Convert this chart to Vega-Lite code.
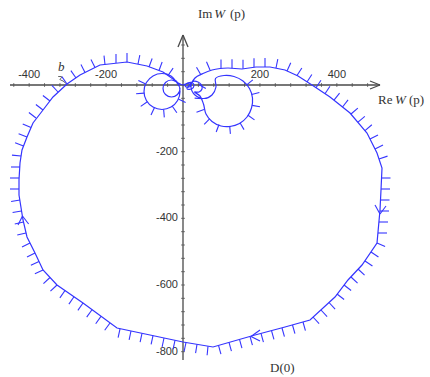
{
 "$schema": "https://vega.github.io/schema/vega-lite/v6.json",
 "width": 430, "height": 377, "autosize": "none", "padding": 0,
 "background": "white",
 "config": {"view": {"stroke": null}},
 "datasets": {
  "curve": [
   {"s":"main","i":0,"x":117,"y":51},{"s":"main","i":1,"x":153.4,"y":48},{"s":"main","i":2,"x":189.8,"y":54},{"s":"main","i":3,"x":226.2,"y":54},{"s":"main","i":4,"x":265.2,"y":45},{"s":"main","i":5,"x":299,"y":27},{"s":"main","i":6,"x":335.4,"y":0},{"s":"main","i":7,"x":382.2,"y":-36},{"s":"main","i":8,"x":434.2,"y":-84},{"s":"main","i":9,"x":478.4,"y":-144},{"s":"main","i":10,"x":504.4,"y":-204},{"s":"main","i":11,"x":517.4,"y":-249},{"s":"main","i":12,"x":514.8,"y":-315},{"s":"main","i":13,"x":512.2,"y":-375},{"s":"main","i":14,"x":504.4,"y":-474},{"s":"main","i":15,"x":465.4,"y":-540},{"s":"main","i":16,"x":429,"y":-585},{"s":"main","i":17,"x":395.2,"y":-636},{"s":"main","i":18,"x":330.2,"y":-705},{"s":"main","i":19,"x":265.2,"y":-726},{"s":"main","i":20,"x":187.2,"y":-750},{"s":"main","i":21,"x":78,"y":-786},{"s":"main","i":22,"x":0,"y":-771},{"s":"main","i":23,"x":-85.8,"y":-750},{"s":"main","i":24,"x":-171.6,"y":-729},{"s":"main","i":25,"x":-260,"y":-654},{"s":"main","i":26,"x":-327.6,"y":-600},{"s":"main","i":27,"x":-364,"y":-555},{"s":"main","i":28,"x":-384.8,"y":-504},{"s":"main","i":29,"x":-405.6,"y":-456},{"s":"main","i":30,"x":-416,"y":-405},{"s":"main","i":31,"x":-426.4,"y":-330},{"s":"main","i":32,"x":-426.4,"y":-285},{"s":"main","i":33,"x":-423.8,"y":-234},{"s":"main","i":34,"x":-418.6,"y":-195},{"s":"main","i":35,"x":-405.6,"y":-156},{"s":"main","i":36,"x":-390,"y":-114},{"s":"main","i":37,"x":-364,"y":-75},{"s":"main","i":38,"x":-338,"y":-36},{"s":"main","i":39,"x":-301.6,"y":3},{"s":"main","i":40,"x":-267.8,"y":30},{"s":"main","i":41,"x":-215.8,"y":60},{"s":"main","i":42,"x":-145.6,"y":69},{"s":"main","i":43,"x":-93.6,"y":57},{"s":"main","i":44,"x":-52,"y":39},{"s":"main","i":45,"x":-26,"y":18},
   {"s":"L","i":0,"x":-26,"y":18},{"s":"L","i":1,"x":-14,"y":7.5},{"s":"L","i":2,"x":-7.8,"y":-19.5},{"s":"L","i":3,"x":-14,"y":-46.5},{"s":"L","i":4,"x":-31.2,"y":-66.3},{"s":"L","i":5,"x":-54.6,"y":-73.5},{"s":"L","i":6,"x":-78,"y":-66.3},{"s":"L","i":7,"x":-95.2,"y":-46.5},{"s":"L","i":8,"x":-101.4,"y":-19.5},{"s":"L","i":9,"x":-95.2,"y":7.5},{"s":"L","i":10,"x":-78,"y":27.3},{"s":"L","i":11,"x":-54.6,"y":34.5},{"s":"L","i":12,"x":-31.2,"y":27.3},{"s":"L","i":13,"x":-15.6,"y":6},{"s":"L","i":14,"x":-7.8,"y":-10.5},{"s":"L","i":15,"x":-14.3,"y":-28.5},{"s":"L","i":16,"x":-29.9,"y":-36},{"s":"L","i":17,"x":-45.5,"y":-28.5},{"s":"L","i":18,"x":-52,"y":-10.5},{"s":"L","i":19,"x":-45.5,"y":7.5},{"s":"L","i":20,"x":-29.9,"y":15},{"s":"L","i":21,"x":-14.3,"y":7.5},{"s":"L","i":22,"x":-5.2,"y":1.5},{"s":"L","i":23,"x":0,"y":0},
   {"s":"R","i":0,"x":0,"y":0},{"s":"R","i":1,"x":7.8,"y":3.6},{"s":"R","i":2,"x":15.6,"y":4.5},{"s":"R","i":3,"x":19.5,"y":-1.5},{"s":"R","i":4,"x":14.3,"y":-6.6},{"s":"R","i":5,"x":6.5,"y":-4.5},{"s":"R","i":6,"x":5.2,"y":0},{"s":"R","i":7,"x":13,"y":6.6},{"s":"R","i":8,"x":23.4,"y":7.5},{"s":"R","i":9,"x":28.6,"y":-1.5},{"s":"R","i":10,"x":22.1,"y":-12},{"s":"R","i":11,"x":10.4,"y":-11.4},{"s":"R","i":12,"x":26,"y":10.5},{"s":"R","i":13,"x":39,"y":9},{"s":"R","i":14,"x":48.1,"y":0},{"s":"R","i":15,"x":49.4,"y":-12},{"s":"R","i":16,"x":41.6,"y":-21},{"s":"R","i":17,"x":29.9,"y":-21},
   {"s":"R","i":18,"x":44.2,"y":-33},{"s":"R","i":19,"x":53.3,"y":-57},{"s":"R","i":20,"x":59.8,"y":-87},{"s":"R","i":21,"x":75.4,"y":-109.5},{"s":"R","i":22,"x":98.8,"y":-123},{"s":"R","i":23,"x":122.2,"y":-124.5},{"s":"R","i":24,"x":146.9,"y":-115.5},{"s":"R","i":25,"x":166.4,"y":-96},{"s":"R","i":26,"x":178.1,"y":-69},{"s":"R","i":27,"x":180.7,"y":-39},{"s":"R","i":28,"x":172.9,"y":-10.5},{"s":"R","i":29,"x":156,"y":12},{"s":"R","i":30,"x":132.6,"y":25.5},{"s":"R","i":31,"x":106.6,"y":28.5},{"s":"R","i":32,"x":84.5,"y":19.5},{"s":"R","i":33,"x":85.8,"y":-6},{"s":"R","i":34,"x":75.4,"y":-30},{"s":"R","i":35,"x":54.6,"y":-40.5},{"s":"R","i":36,"x":31.2,"y":-30},{"s":"R","i":37,"x":20.8,"y":-6},{"s":"R","i":38,"x":31.2,"y":21},{"s":"R","i":39,"x":52,"y":34.5},{"s":"R","i":40,"x":75.4,"y":45},{"s":"R","i":41,"x":96.2,"y":49.5},{"s":"R","i":42,"x":117,"y":51},
   {"s":"lead","i":0,"x":-325,"y":25.5},{"s":"lead","i":1,"x":-314.6,"y":24},{"s":"lead","i":2,"x":-319.8,"y":16.5},{"s":"lead","i":3,"x":-312,"y":12},{"s":"lead","i":4,"x":-304.2,"y":4.5}
  ],
  "segs": [
   {"g":"axis","x":-449.8,"y":0,"x2":512.2,"y2":0},{"g":"axis","x":512.2,"y":0,"x2":486.2,"y2":12},{"g":"axis","x":512.2,"y":0,"x2":486.2,"y2":-12},
   {"g":"axis","x":0,"y":-825,"x2":0,"y2":150},{"g":"axis","x":0,"y":150,"x2":-13,"y2":114},{"g":"axis","x":0,"y":150,"x2":13,"y2":114},
   {"g":"arrow","x":-417.3,"y":-393,"x2":-429,"y2":-420},{"g":"arrow","x":-417.3,"y":-393,"x2":-401.4,"y2":-417},
   {"g":"arrow","x":512.2,"y":-387,"x2":499.2,"y2":-360},{"g":"arrow","x":512.2,"y":-387,"x2":527.8,"y2":-363},
   {"g":"arrow","x":176.8,"y":-754.5,"x2":200.2,"y2":-735},{"g":"arrow","x":176.8,"y":-754.5,"x2":200.2,"y2":-768},
   {"g":"h","x":46.8,"y":30,"x2":35.1,"y2":53.5},{"g":"h","x":70.2,"y":45,"x2":61.1,"y2":69.8},{"g":"h","x":98.8,"y":49.5,"x2":98.8,"y2":76.5},{"g":"h","x":127.4,"y":50.1,"x2":127.4,"y2":77.1},{"g":"h","x":156,"y":48.6,"x2":156,"y2":75.6},{"g":"h","x":184.6,"y":53.1,"x2":184.6,"y2":80.1},{"g":"h","x":213.2,"y":54,"x2":213.2,"y2":81},{"g":"h","x":241.8,"y":51,"x2":246.5,"y2":77.5},{"g":"h","x":270.4,"y":42,"x2":280.2,"y2":66.6},{"g":"h","x":296.4,"y":28.5,"x2":309,"y2":51.2},
   {"g":"h","x":322.4,"y":9,"x2":335,"y2":31.7},{"g":"h","x":345.8,"y":-8.1,"x2":358.7,"y2":14.3},{"g":"h","x":369.2,"y":-26.1,"x2":382.1,"y2":-3.7},{"g":"h","x":392.6,"y":-45.6,"x2":407.1,"y2":-24.5},{"g":"h","x":414.7,"y":-66,"x2":429.2,"y2":-44.9},{"g":"h","x":436.8,"y":-87,"x2":454.6,"y2":-69.5},{"g":"h","x":455,"y":-111.6,"x2":472.8,"y2":-94.1},{"g":"h","x":473.2,"y":-136.8,"x2":491,"y2":-119.3},{"g":"h","x":486.2,"y":-162,"x2":507,"y2":-149.9},{"g":"h","x":499.2,"y":-192,"x2":520,"y2":-179.9},{"g":"h","x":509.6,"y":-222,"x2":531.8,"y2":-213.4},
   {"g":"h","x":516.1,"y":-279,"x2":539.5,"y2":-279},{"g":"h","x":514.8,"y":-312,"x2":538.2,"y2":-312},{"g":"h","x":513.5,"y":-345,"x2":536.9,"y2":-345},{"g":"h","x":512.2,"y":-378,"x2":535.6,"y2":-378},{"g":"h","x":509.6,"y":-411,"x2":533,"y2":-411},{"g":"h","x":507,"y":-444,"x2":530.4,"y2":-444},{"g":"h","x":504.4,"y":-474,"x2":525.5,"y2":-484.8},
   {"g":"h","x":488.8,"y":-501,"x2":508.2,"y2":-516.1},{"g":"h","x":473.2,"y":-528,"x2":492.6,"y2":-543.1},{"g":"h","x":455,"y":-552,"x2":472.1,"y2":-570.4},{"g":"h","x":436.8,"y":-576,"x2":453.9,"y2":-594.4},{"g":"h","x":418.6,"y":-600,"x2":437.1,"y2":-616.5},{"g":"h","x":400.4,"y":-627,"x2":418.9,"y2":-643.5},{"g":"h","x":379.6,"y":-652.5,"x2":395.5,"y2":-672.5},{"g":"h","x":358.8,"y":-675,"x2":374.7,"y2":-695},{"g":"h","x":338,"y":-696,"x2":353.9,"y2":-716},
   {"g":"h","x":312,"y":-711,"x2":318.3,"y2":-736.9},{"g":"h","x":284.7,"y":-720,"x2":291,"y2":-745.9},{"g":"h","x":257.4,"y":-729,"x2":263.7,"y2":-754.9},{"g":"h","x":230.1,"y":-737.1,"x2":236.4,"y2":-763},{"g":"h","x":202.8,"y":-745.2,"x2":209.1,"y2":-771.1},{"g":"h","x":174.2,"y":-754.2,"x2":180.5,"y2":-780.1},{"g":"h","x":146.9,"y":-763.2,"x2":153.2,"y2":-789.1},{"g":"h","x":119.6,"y":-772.2,"x2":125.9,"y2":-798.1},{"g":"h","x":92.3,"y":-781.2,"x2":98.6,"y2":-807.1},
   {"g":"h","x":65,"y":-783.6,"x2":62.7,"y2":-810.6},{"g":"h","x":36.4,"y":-777.9,"x2":32.7,"y2":-804.6},{"g":"h","x":7.8,"y":-772.5,"x2":2.9,"y2":-799},{"g":"h","x":-20.8,"y":-765.9,"x2":-25.7,"y2":-792.4},{"g":"h","x":-49.4,"y":-759,"x2":-54.3,"y2":-785.5},{"g":"h","x":-78,"y":-751.8,"x2":-82.9,"y2":-778.3},{"g":"h","x":-106.6,"y":-744.9,"x2":-111.5,"y2":-771.4},{"g":"h","x":-135.2,"y":-738,"x2":-140.1,"y2":-764.5},{"g":"h","x":-163.8,"y":-731.4,"x2":-168.7,"y2":-757.9},
   {"g":"h","x":-189.8,"y":-714,"x2":-203.6,"y2":-735.9},{"g":"h","x":-213.2,"y":-694.2,"x2":-227,"y2":-716.1},{"g":"h","x":-236.6,"y":-674.4,"x2":-250.4,"y2":-696.3},{"g":"h","x":-260,"y":-654,"x2":-273.3,"y2":-676.1},{"g":"h","x":-283.4,"y":-635.4,"x2":-296.7,"y2":-657.5},{"g":"h","x":-306.8,"y":-616.5,"x2":-320.1,"y2":-638.6},{"g":"h","x":-327.6,"y":-600,"x2":-344.7,"y2":-618.4},{"g":"h","x":-345.8,"y":-577.5,"x2":-362.9,"y2":-595.9},
   {"g":"h","x":-364,"y":-555,"x2":-385.1,"y2":-566.3},{"g":"h","x":-374.4,"y":-529.5,"x2":-395.5,"y2":-540.8},{"g":"h","x":-384.8,"y":-504,"x2":-405.6,"y2":-516.2},{"g":"h","x":-397.8,"y":-474,"x2":-418.6,"y2":-486.2},{"g":"h","x":-408.2,"y":-444,"x2":-430.9,"y2":-450.2},{"g":"h","x":-414.7,"y":-411,"x2":-437.4,"y2":-417.2},{"g":"h","x":-419.9,"y":-378,"x2":-443.1,"y2":-382.3},{"g":"h","x":-423.8,"y":-345,"x2":-447,"y2":-349.3},{"g":"h","x":-426.4,"y":-312,"x2":-449.8,"y2":-312},{"g":"h","x":-426.4,"y":-279,"x2":-449.8,"y2":-279},{"g":"h","x":-423.8,"y":-246,"x2":-447.2,"y2":-246},{"g":"h","x":-421.2,"y":-213,"x2":-444.6,"y2":-210.3},
   {"g":"h","x":-414.7,"y":-183,"x2":-436.5,"y2":-173.3},{"g":"h","x":-405.6,"y":-156,"x2":-427.4,"y2":-146.3},{"g":"h","x":-395.2,"y":-127.5,"x2":-416.7,"y2":-117},{"g":"h","x":-382.2,"y":-99,"x2":-400.7,"y2":-82.5},{"g":"h","x":-364,"y":-75,"x2":-382.5,"y2":-58.5},{"g":"h","x":-345.8,"y":-48,"x2":-364.3,"y2":-31.5},{"g":"h","x":-325,"y":-21,"x2":-340.9,"y2":-1.3},{"g":"h","x":-301.6,"y":3,"x2":-314.9,"y2":25.1},{"g":"h","x":-278.2,"y":21,"x2":-291.5,"y2":43.1},{"g":"h","x":-254.8,"y":37.5,"x2":-265.3,"y2":61.5},{"g":"h","x":-228.8,"y":52.5,"x2":-239.3,"y2":76.5},{"g":"h","x":-202.8,"y":61.5,"x2":-205.4,"y2":88.2},{"g":"h","x":-174.2,"y":66,"x2":-174.2,"y2":93},{"g":"h","x":-145.6,"y":69,"x2":-145.6,"y2":96},{"g":"h","x":-117,"y":63,"x2":-112.3,"y2":89.5},{"g":"h","x":-88.4,"y":54,"x2":-80.2,"y2":79.4},{"g":"h","x":-62.4,"y":43.5,"x2":-54.2,"y2":68.9},{"g":"h","x":-39,"y":28.5,"x2":-25.7,"y2":50.6},
   {"g":"h","x":-12.2,"y":-42.3,"x2":6.8,"y2":-52.5},{"g":"h","x":-27.8,"y":-63.6,"x2":-15.9,"y2":-83.4},{"g":"h","x":-50.4,"y":-73.2,"x2":-48.6,"y2":-97.2},{"g":"h","x":-74.4,"y":-68.4,"x2":-83.2,"y2":-90.3},{"g":"h","x":-92.8,"y":-50.4,"x2":-110,"y2":-64.2},{"g":"h","x":-101.1,"y":-24.3,"x2":-121.9,"y2":-26.4},{"g":"h","x":-97,"y":3.3,"x2":-116,"y2":13.5},
   {"g":"h","x":165.6,"y":0.3,"x2":181.5,"y2":15.6},{"g":"h","x":178.4,"y":-28.5,"x2":198.6,"y2":-22.5},{"g":"h","x":179.7,"y":-61.2,"x2":200.2,"y2":-65.1},{"g":"h","x":169,"y":-90.9,"x2":185.9,"y2":-104.7},{"g":"h","x":148.2,"y":-113.1,"x2":158.6,"y2":-133.8},{"g":"h","x":121.4,"y":-122.7,"x2":123.2,"y2":-146.7},{"g":"h","x":93.6,"y":-118.5,"x2":86.3,"y2":-141},{"g":"h","x":69.7,"y":-101.1,"x2":55.1,"y2":-117.9},{"g":"h","x":54.6,"y":-73.8,"x2":35.1,"y2":-81.9},{"g":"h","x":51,"y":-41.4,"x2":30.2,"y2":-39.3},{"g":"h","x":59.3,"y":-10.5,"x2":41.3,"y2":1.5}
  ],
  "xticks": [{"x":-440,"y":0},{"x":-400,"y":0},{"x":-360,"y":0},{"x":-320,"y":0},{"x":-280,"y":0},{"x":-240,"y":0},{"x":-200,"y":0},{"x":-160,"y":0},{"x":-120,"y":0},{"x":-80,"y":0},{"x":-40,"y":0},{"x":40,"y":0},{"x":80,"y":0},{"x":120,"y":0},{"x":160,"y":0},{"x":200,"y":0},{"x":240,"y":0},{"x":280,"y":0},{"x":320,"y":0},{"x":360,"y":0},{"x":400,"y":0},{"x":440,"y":0},{"x":480,"y":0}],
  "yticks": [{"x":0,"y":120},{"x":0,"y":80},{"x":0,"y":40},{"x":0,"y":-40},{"x":0,"y":-80},{"x":0,"y":-120},{"x":0,"y":-160},{"x":0,"y":-200},{"x":0,"y":-240},{"x":0,"y":-280},{"x":0,"y":-320},{"x":0,"y":-360},{"x":0,"y":-400},{"x":0,"y":-440},{"x":0,"y":-480},{"x":0,"y":-520},{"x":0,"y":-560},{"x":0,"y":-600},{"x":0,"y":-640},{"x":0,"y":-680},{"x":0,"y":-720},{"x":0,"y":-760},{"x":0,"y":-800}],
  "xlabels": [{"x":-400,"y":0,"t":"-400"},{"x":-200,"y":0,"t":"-200"},{"x":200,"y":0,"t":"200"},{"x":400,"y":0,"t":"400"}],
  "ylabels": [{"x":0,"y":-200,"t":"-200"},{"x":0,"y":-400,"t":"-400"},{"x":0,"y":-600,"t":"-600"},{"x":0,"y":-800,"t":"-800"}],
  "texts": [
   {"role":"plain","t":"Re","x":507,"y":-45},{"role":"var","t":"W","x":551.2,"y":-45},{"role":"plain","t":"(p)","x":587.6,"y":-45},
   {"role":"plain","t":"Im","x":39,"y":213},{"role":"var","t":"W","x":81,"y":213},{"role":"plain","t":"(p)","x":122,"y":213},
   {"role":"plain","t":"D(0)","x":226.2,"y":-849},
   {"role":"var","t":"b","x":-325,"y":54}
  ]
 },
 "encoding": {
  "x": {"field":"x","type":"quantitative","scale":{"domain":[-475.8,642.2],"nice":false,"zero":false},"axis":null},
  "y": {"field":"y","type":"quantitative","scale":{"domain":[-876,255],"nice":false,"zero":false},"axis":null}
 },
 "layer": [
  {"data":{"name":"segs"},"transform":[{"filter":"datum.g == 'axis'"}],"mark":{"type":"rule","color":"#4a4a4a","strokeWidth":1.3},"encoding":{"x2":{"field":"x2"},"y2":{"field":"y2"}}},
  {"data":{"name":"xticks"},"mark":{"type":"tick","orient":"vertical","size":4,"thickness":1,"color":"#4a4a4a"}},
  {"data":{"name":"yticks"},"mark":{"type":"tick","orient":"horizontal","size":4,"thickness":1,"color":"#4a4a4a"}},
  {"data":{"name":"xlabels"},"mark":{"type":"text","font":"Liberation Sans","fontSize":11,"color":"#333333","dy":-10,"align":"center","baseline":"middle"},"encoding":{"text":{"field":"t"}}},
  {"data":{"name":"ylabels"},"mark":{"type":"text","font":"Liberation Sans","fontSize":11,"color":"#333333","dx":-5,"align":"right","baseline":"middle"},"encoding":{"text":{"field":"t"}}},
  {"data":{"name":"curve"},"transform":[{"filter":"datum.s == 'main'"}],"mark":{"type":"line","interpolate":"linear","color":"#3535ff","strokeWidth":1.2},"encoding":{"order":{"field":"i"}}},
  {"data":{"name":"curve"},"transform":[{"filter":"datum.s == 'L' || datum.s == 'R'"}],"mark":{"type":"line","interpolate":"catmull-rom","color":"#3535ff","strokeWidth":1.2},"encoding":{"detail":{"field":"s"},"order":{"field":"i"}}},
  {"data":{"name":"curve"},"transform":[{"filter":"datum.s == 'lead'"}],"mark":{"type":"line","interpolate":"catmull-rom","color":"#555555","strokeWidth":1},"encoding":{"order":{"field":"i"}}},
  {"data":{"name":"segs"},"transform":[{"filter":"datum.g != 'axis'"}],"mark":{"type":"rule","color":"#3535ff","strokeWidth":1.1},"encoding":{"x2":{"field":"x2"},"y2":{"field":"y2"}}},
  {"data":{"name":"texts"},"transform":[{"filter":"datum.role == 'plain'"}],"mark":{"type":"text","font":"Liberation Serif","fontSize":13,"color":"#333333","align":"left","baseline":"middle"},"encoding":{"text":{"field":"t"}}},
  {"data":{"name":"texts"},"transform":[{"filter":"datum.role == 'var'"}],"mark":{"type":"text","font":"Liberation Serif","fontSize":13,"fontStyle":"italic","color":"#333333","align":"left","baseline":"middle"},"encoding":{"text":{"field":"t"}}}
 ]
}
